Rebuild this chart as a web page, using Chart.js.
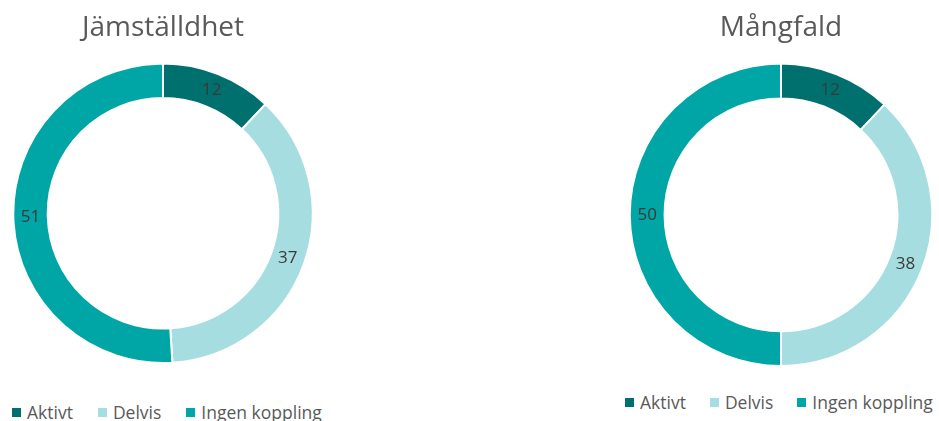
<!DOCTYPE html>
<html>
<head>
<meta charset="utf-8">
<script src="https://cdn.jsdelivr.net/npm/chart.js@4"></script>
<style>
  body { margin: 0; background: #fff; width: 939px; height: 421px; overflow: hidden; position: relative; font-family: 'Open Sans', sans-serif; }
  .box { position: absolute; }
  .legend { position: absolute; display: flex; align-items: center; font-size: 17.5px; line-height: 24px; color: #595959; white-space: nowrap; }
  .legend span.sw { display: inline-block; width: 9px; height: 9px; margin-right: 6px; }
  .legend .item { display: flex; align-items: center; margin-right: 25px; }
  #legRight .item { margin-right: 24px; }
</style>
</head>
<body>
<div class="box" style="left:0;top:0;width:326px;height:364px"><canvas id="left"></canvas></div>
<div class="box" style="left:623px;top:0;width:316px;height:367px"><canvas id="right"></canvas></div>
<div class="legend" id="legLeft" style="left:12px;top:400px"></div>
<div class="legend" id="legRight" style="left:625px;top:390px"></div>
<script>
const categories = ['Aktivt', 'Delvis', 'Ingen koppling'];
const colors = ['#00706E', '#A6DDE0', '#00A6A6'];
const titles = ['Jämställdhet', 'Mångfald'];
const jamstalldhet = [12, 37, 51];
const mangfald = [12, 38, 50];

// värden i ringen
const labelPlugin = {
    id: 'ringLabels',
    afterDatasetsDraw(chart) {
        const ctx = chart.ctx;
        const meta = chart.getDatasetMeta(0);
        ctx.save();
        ctx.font = '17px "Open Sans", sans-serif';
        ctx.fillStyle = '#3a3a3a';
        ctx.textAlign = 'center';
        ctx.textBaseline = 'middle';
        meta.data.forEach((arc, i) => {
            const p = arc.tooltipPosition();
            ctx.fillText(chart.data.datasets[0].data[i], p.x, p.y);
        });
        ctx.restore();
    }
};

function makeRing(id, title, values) {
    return new Chart(document.getElementById(id), {
        type: 'doughnut',
        data: {
            labels: categories,
            datasets: [{
                data: values,
                backgroundColor: colors,
                borderColor: '#ffffff',
                borderWidth: 2
            }]
        },
        options: {
            responsive: true,
            maintainAspectRatio: false,
            animation: false,
            cutout: '77%',
            layout: { padding: { top: 11 } },
            plugins: {
                title: {
                    display: true,
                    text: title,
                    color: '#595959',
                    font: { size: 28, weight: 'normal', family: '"Open Sans", sans-serif' },
                    padding: { top: 0, bottom: 18 }
                },
                legend: { display: false },
                tooltip: { enabled: false }
            }
        },
        plugins: [labelPlugin]
    });
}

makeRing('left', titles[0], jamstalldhet);
makeRing('right', titles[1], mangfald);

// legend
function buildLegend(id) {
    const el = document.getElementById(id);
    categories.forEach((c, i) => {
        const item = document.createElement('div');
        item.className = 'item';
        item.innerHTML = '<span class="sw" style="background:' + colors[i] + '"></span>' + c;
        el.appendChild(item);
    });
}
buildLegend('legLeft');
buildLegend('legRight');
</script>
</body>
</html>
